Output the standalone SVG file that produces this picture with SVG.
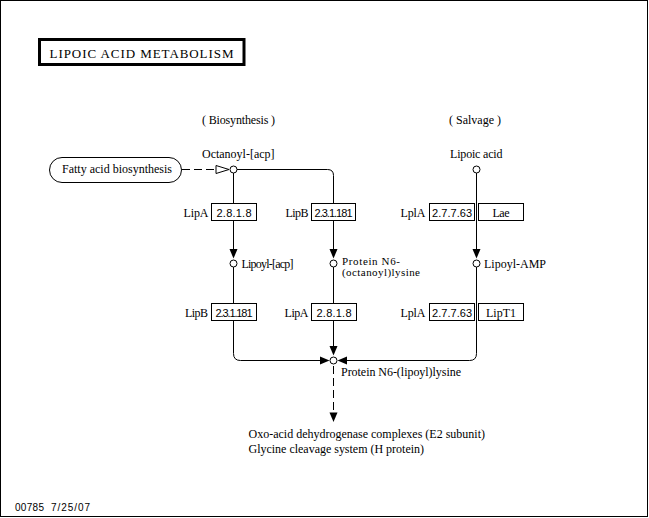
<svg xmlns="http://www.w3.org/2000/svg" width="649" height="518" viewBox="0 0 649 518">
<style>
.t{font-family:"Liberation Serif","Times New Roman",serif;font-size:12px;fill:#000}
.t11{font-size:11px}
.s{font-family:"Liberation Sans",Arial,sans-serif;font-size:11px;fill:#000}
.f{font-family:"Liberation Sans",Arial,sans-serif;font-size:10px;fill:#000}
.ln{fill:none;stroke:#000;stroke-width:1}
.dash{fill:none;stroke:#000;stroke-width:1;stroke-dasharray:8 4}
.ah{fill:#000;stroke:none}
.cpd{fill:#fff;stroke:#000;stroke-width:1}
.enz{fill:#fff;stroke:#000;stroke-width:1}
</style>
<rect x="0.5" y="0.5" width="647" height="516" fill="#fff" stroke="#000" stroke-width="1"/>
<g id="title">
<rect x="39.5" y="39.5" width="204.5" height="25" fill="#fff" stroke="#000" stroke-width="3"/>
<text class="t" x="49.5" y="57.5" style="font-size:13px" textLength="184" lengthAdjust="spacing">LIPOIC ACID METABOLISM</text>
</g>
<g id="section-labels">
<text class="t" x="202" y="124" textLength="73" lengthAdjust="spacing">( Biosynthesis )</text>
<text class="t" x="449" y="124" textLength="52" lengthAdjust="spacing">( Salvage )</text>
</g>
<g id="connectors">
<line class="dash" x1="182" y1="169.5" x2="216" y2="169.5"/>
<polygon points="216,165.5 229,169.5 216,173.5" fill="#fff" stroke="#000" stroke-width="1"/>
<line class="ln" x1="233.5" y1="173" x2="233.5" y2="250"/>
<polygon class="ah" points="229.5,249 237.5,249 233.5,258.5"/>
<path class="ln" d="M237,169.5 H327.5 Q333.5,169.5 333.5,175.5 V250"/>
<polygon class="ah" points="329.5,249 337.5,249 333.5,258.5"/>
<line class="ln" x1="476.5" y1="173" x2="476.5" y2="250"/>
<polygon class="ah" points="472.5,249 480.5,249 476.5,258.5"/>
<path class="ln" d="M233.5,267 V353.5 Q233.5,360.5 240.5,360.5 H321"/>
<polygon class="ah" points="320,356.5 320,364.5 329.5,360.5"/>
<line class="ln" x1="333.5" y1="267" x2="333.5" y2="347"/>
<polygon class="ah" points="329.5,346 337.5,346 333.5,355.5"/>
<path class="ln" d="M476.5,267 V353.5 Q476.5,360.5 469.5,360.5 H346"/>
<polygon class="ah" points="347,356.5 347,364.5 337.5,360.5"/>
<line class="dash" x1="333.5" y1="366" x2="333.5" y2="413"/>
<polygon class="ah" points="329.5,412.5 337.5,412.5 333.5,422"/>
</g>
<g id="fatty-acid-biosynthesis">
<rect x="49.5" y="157.5" width="132" height="25" rx="12.5" ry="12.5" fill="#fff" stroke="#000" stroke-width="1"/>
<text class="t" x="62" y="173" textLength="110" lengthAdjust="spacing">Fatty acid biosynthesis</text>
</g>
<g id="octanoyl-acp">
<circle class="cpd" cx="233.5" cy="169.5" r="3.5"/>
<text class="t" x="202" y="157.5" textLength="72.5" lengthAdjust="spacing">Octanoyl-[acp]</text>
</g>
<g id="lipoic-acid">
<circle class="cpd" cx="476.5" cy="169.5" r="3.5"/>
<text class="t" x="450" y="157.5" textLength="52.5" lengthAdjust="spacing">Lipoic acid</text>
</g>
<g id="lipoyl-acp">
<circle class="cpd" cx="233.5" cy="263.5" r="3.5"/>
<text class="t" x="241.5" y="268" textLength="52" lengthAdjust="spacing">Lipoyl-[acp]</text>
</g>
<g id="protein-n6-octanoyl-lysine">
<circle class="cpd" cx="333.5" cy="263.5" r="3.5"/>
<text class="t t11" x="342" y="264.5" textLength="58" lengthAdjust="spacing">Protein N6-</text>
<text class="t t11" x="342" y="276" textLength="78" lengthAdjust="spacing">(octanoyl)lysine</text>
</g>
<g id="lipoyl-amp">
<circle class="cpd" cx="476.5" cy="263.5" r="3.5"/>
<text class="t" x="484" y="268" textLength="62" lengthAdjust="spacing">Lipoyl-AMP</text>
</g>
<g id="protein-n6-lipoyl-lysine">
<circle class="cpd" cx="333.5" cy="360.5" r="3.5"/>
<text class="t" x="341" y="375.5" textLength="120" lengthAdjust="spacing">Protein N6-(lipoyl)lysine</text>
</g>
<g id="enz-lipA-1">
<text class="t" x="208.5" y="216.5" text-anchor="end" textLength="25" lengthAdjust="spacing">LipA</text>
<rect class="enz" x="211.5" y="203.5" width="45" height="17"/>
<text class="s" x="234" y="216.5" text-anchor="middle" textLength="35" lengthAdjust="spacing">2.8.1.8</text>
</g>
<g id="enz-lipB-1">
<text class="t" x="308.5" y="216.5" text-anchor="end" textLength="23" lengthAdjust="spacing">LipB</text>
<rect class="enz" x="311.5" y="203.5" width="44" height="17"/>
<text class="s" x="333.5" y="216.5" text-anchor="middle" textLength="38" lengthAdjust="spacing">2.3.1.181</text>
</g>
<g id="enz-lplA-1">
<text class="t" x="425.5" y="216.5" text-anchor="end" textLength="25" lengthAdjust="spacing">LplA</text>
<rect class="enz" x="429.5" y="203.5" width="45" height="17"/>
<text class="s" x="452" y="216.5" text-anchor="middle" textLength="40" lengthAdjust="spacing">2.7.7.63</text>
</g>
<g id="enz-lae">
<rect class="enz" x="478.5" y="203.5" width="45" height="17"/>
<text class="t" x="501" y="216.5" text-anchor="middle" textLength="17" lengthAdjust="spacing">Lae</text>
</g>
<g id="enz-lipB-2">
<text class="t" x="208" y="317" text-anchor="end" textLength="23" lengthAdjust="spacing">LipB</text>
<rect class="enz" x="211.5" y="303.5" width="45" height="17"/>
<text class="s" x="234" y="317" text-anchor="middle" textLength="37" lengthAdjust="spacing">2.3.1.181</text>
</g>
<g id="enz-lipA-2">
<text class="t" x="308.5" y="317" text-anchor="end" textLength="24" lengthAdjust="spacing">LipA</text>
<rect class="enz" x="311.5" y="303.5" width="45" height="17"/>
<text class="s" x="334" y="317" text-anchor="middle" textLength="35" lengthAdjust="spacing">2.8.1.8</text>
</g>
<g id="enz-lplA-2">
<text class="t" x="425.5" y="317" text-anchor="end" textLength="25" lengthAdjust="spacing">LplA</text>
<rect class="enz" x="429.5" y="303.5" width="45" height="17"/>
<text class="s" x="452" y="317" text-anchor="middle" textLength="40" lengthAdjust="spacing">2.7.7.63</text>
</g>
<g id="enz-lipT1">
<rect class="enz" x="478.5" y="303.5" width="45" height="17"/>
<text class="t" x="501" y="317" text-anchor="middle" textLength="30" lengthAdjust="spacing">LipT1</text>
</g>
<g id="products">
<text class="t" x="248.5" y="437.5" textLength="236.5" lengthAdjust="spacing">Oxo-acid dehydrogenase complexes (E2 subunit)</text>
<text class="t" x="248.5" y="453" textLength="175.5" lengthAdjust="spacing">Glycine cleavage system (H protein)</text>
</g>
<g id="footer">
<text class="f" x="15" y="510.5" textLength="29" lengthAdjust="spacing">00785</text>
<text class="f" x="51" y="510.5" textLength="39" lengthAdjust="spacing">7/25/07</text>
</g>
</svg>
